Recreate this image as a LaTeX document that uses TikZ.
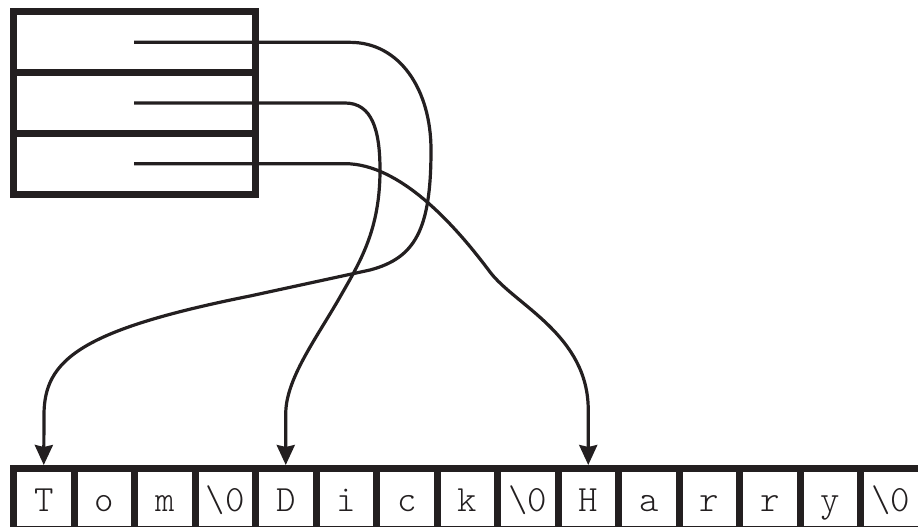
\documentclass[tikz,border=0pt]{standalone}
\usepackage{fontspec}
\usetikzlibrary{arrows.meta}
\definecolor{ink}{HTML}{231F20}
\begin{document}
\begin{tikzpicture}[x=1pt,y=-1pt,
  frame/.style={draw=ink,line width=7pt,line join=miter,inner sep=0pt},
  slot/.style={frame,minimum width=242pt,minimum height=60.67pt},
  cell/.style={frame,minimum width=60.5pt,minimum height=60.5pt,
    font=\ttfamily\fontseries{l}\fontsize{37}{37}\selectfont,text=ink,
    text height=26pt,text depth=0pt},
  ptr/.style={draw=ink,line width=3.2pt,-{Stealth[length=20pt,width=18pt,inset=2pt]}}]
\useasboundingbox (0,0) rectangle (918,527);
\clip (0,0) rectangle (918,527);
% pointer array
\node[slot] (r1) at (134,42.33) {};
\node[slot] (r2) at (134,103) {};
\node[slot] (r3) at (134,163.67) {};
\coordinate (p1) at (134,42.33);
\coordinate (p2) at (134,103);
\coordinate (p3) at (134,163.67);
% character array
\foreach \ch [count=\i from 0] in {T,o,m,\textbackslash 0,D,i,c,k,\textbackslash 0,H,a,r,r,y,\textbackslash 0}{
  \node[cell] (c\i) at ({43.75+60.5*\i},498.75) {\ch};
}
% connectors
\draw[ptr] (p1) -- (350,42.33)
  .. controls (400,42.33) and (431,90) .. (431,150)
  .. controls (431,230) and (415,258) .. (370,270)
  -- (250,296)
  .. controls (80,330) and (44,360) .. (44,415)
  -- (c0.north);
\draw[ptr] (p2) -- (345,103)
  .. controls (372,103) and (380,130) .. (380,170)
  .. controls (380,230) and (360,262) .. (340,297)
  .. controls (316,339) and (285,380) .. (285.75,415)
  -- (c4.north);
\draw[ptr] (p3) -- (345,163.67)
  .. controls (400,163.67) and (455,225) .. (490,272)
  .. controls (515,305) and (588.25,335) .. (588.25,410)
  -- (c9.north);
\end{tikzpicture}
\end{document}
